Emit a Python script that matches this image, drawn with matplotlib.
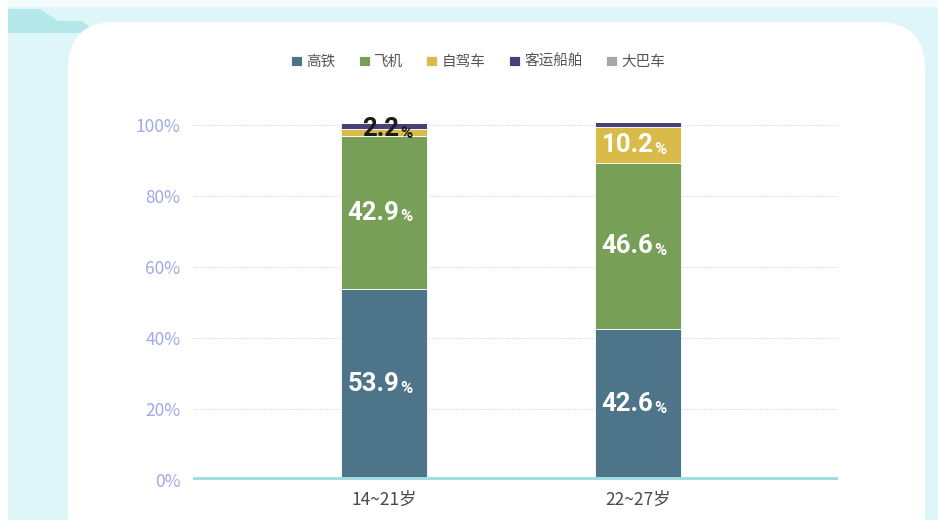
import matplotlib.pyplot as plt
import matplotlib.transforms as mtransforms
from matplotlib.patches import FancyBboxPatch, Polygon
import numpy as np

plt.rcParams['font.family'] = ['Noto Sans CJK SC', 'DejaVu Sans']

# 数据
groups = ['14~21岁', '22~27岁']
series = ['高铁', '飞机', '自驾车', '客运船舶', '大巴车']
colors = ['#4e7489', '#789f58', '#d8bb48', '#4b3f78', '#a6a6a6']
gaotie = [53.9, 42.6]
feiji = [42.9, 46.6]
zijia = [2.2, 10.2]
chuan = [1.5, 1.5]
daba = [0.0, 0.0]
values = [gaotie, feiji, zijia, chuan, daba]
yticks = [0, 20, 40, 60, 80, 100]

fig = plt.figure(figsize=(9.38, 5.2), dpi=100)
fig.patch.set_facecolor('#def6f8')

# 背景装饰
W, H = 938, 520
def fx(px):
    return px / W
def fy(py):
    return 1 - py / H

fig.patches.append(Polygon([(0, fy(0)), (1, fy(0)), (1, fy(7)), (0, fy(7))],
                           closed=True, transform=fig.transFigure, facecolor='#f4fcfd', edgecolor='none', zorder=0))
fig.patches.append(Polygon([(0, 0), (fx(8), 0), (fx(8), 1), (0, 1)],
                           closed=True, transform=fig.transFigure, facecolor='white', edgecolor='none', zorder=0))
fig.patches.append(Polygon([(fx(8), fy(9)), (fx(40), fy(9)), (fx(58), fy(21)),
                            (fx(82), fy(21)), (fx(98), fy(33)), (fx(8), fy(33))],
                           closed=True, transform=fig.transFigure, facecolor='#b4e8e8', edgecolor='none', zorder=0))
fig.patches.append(FancyBboxPatch((fx(68), -0.2), fx(925 - 68), 0.2 + fy(22),
                                  boxstyle='round,pad=0,rounding_size=0.05', mutation_aspect=W / H,
                                  transform=fig.transFigure, facecolor='white', edgecolor='none', zorder=1))

ax = fig.add_axes([fx(193), 40 / H, fx(838 - 193), (480 - 40) / H])
ax.set_facecolor('none')
ax.set_zorder(2)

x = np.arange(len(groups))
width = 0.34
cum = [np.zeros(len(groups))]
for name, vals, c in zip(series, values, colors):
    v = np.array(vals)
    ax.bar(x, v, width, bottom=cum[-1], color=c, label=name, zorder=3,
           edgecolor='white', linewidth=0.6)
    cum.append(cum[-1] + v)

# 百分比标签
for si, vals in enumerate([gaotie, feiji, zijia]):
    for gi in range(len(groups)):
        v = vals[gi]
        y = cum[si][gi] + v / 2
        col = 'white'
        if v < 5:
            y = cum[si][gi] + v / 2 + 1.0
            col = '#1a1a1a'
        t1 = mtransforms.offset_copy(ax.transData, fig=fig, x=11, y=0, units='points')
        t2 = mtransforms.offset_copy(ax.transData, fig=fig, x=11.5, y=-3, units='points')
        ax.text(x[gi], y, f'{v:.1f}', transform=t1, ha='right', va='center', fontsize=18.5,
                fontweight='bold', color=col, family=['Roboto', 'DejaVu Sans'], zorder=5)
        ax.text(x[gi], y, '%', transform=t2, ha='left', va='center', fontsize=12,
                fontweight='bold', color=col, family=['Roboto', 'DejaVu Sans'], zorder=5)

ax.set_xlim(-0.752, 1.787)
ax.set_ylim(0, 100 + (125 - 40) / 3.55)
ax.set_yticks(yticks)
ax.set_yticklabels([f'{t}%' for t in yticks], color='#a3a8e6', fontsize=12.5)
ax.set_xticks(x)
ax.set_xticklabels(groups, color='#4a4a4a', fontsize=12.5, fontweight='medium')
ax.tick_params(axis='both', length=0)
ax.tick_params(axis='y', pad=9)
ax.tick_params(axis='x', pad=8)
for s in ax.spines.values():
    s.set_visible(False)
for t in yticks[1:]:
    ax.axhline(t, color='#d0d0d0', linestyle=(0, (1, 1.5)), linewidth=0.7, zorder=1)
ax.axhline(0, color='#9fdde3', linewidth=5, zorder=4)

ax.legend(loc='center', bbox_to_anchor=((478 - 193) / (838 - 193), (480 - 62) / 440),
          ncol=5, frameon=False, fontsize=10.5, handlelength=0.75, handleheight=0.75,
          handletextpad=0.3, columnspacing=1.6, labelcolor='#555555')

fig.savefig('out.png', dpi=100, facecolor=fig.get_facecolor())
